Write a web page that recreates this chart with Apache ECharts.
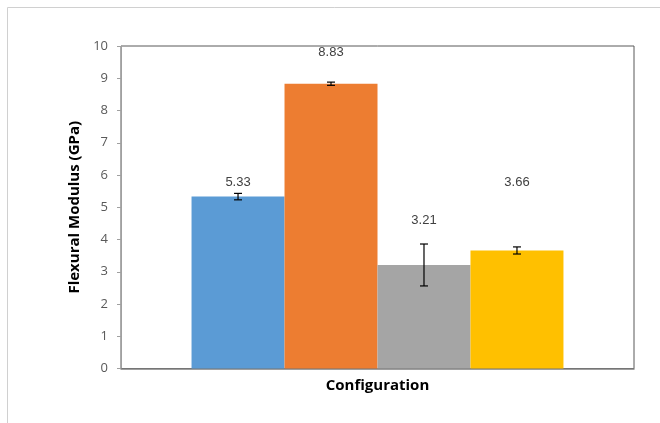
<!DOCTYPE html>
<html><head><meta charset="utf-8">
<script src="https://cdn.jsdelivr.net/npm/echarts@6/dist/echarts.min.js"></script>
<style>html,body{margin:0;padding:0;background:#fff}#c{width:660px;height:423px}</style>
</head><body><div id="c"></div>
<script>
const categories = [''];
const seriesNames = ['A', 'B', 'C', 'D'];
const values = [5.33, 8.83, 3.21, 3.66];
const errors = [0.10, 0.05, 0.65, 0.11];
const yTicks = [0, 1, 2, 3, 4, 5, 6, 7, 8, 9, 10];

const colors = ['#5B9BD5', '#ED7D31', '#A5A5A5', '#FFC000'];
const labelDist = [8, 25, 38, 62];
const catGap = 0.275;
const font = 'Liberation Sans, Arial, sans-serif';
const font2 = 'Open Sans, sans-serif';

const chart = echarts.init(document.getElementById('c'), null, {renderer: 'canvas'});
const series = [];
values.forEach((v, i) => {
  series.push({
    type: 'bar', name: seriesNames[i], data: [v], barGap: '0%', barCategoryGap: (catGap * 100) + '%',
    itemStyle: {color: colors[i]},
    label: {show: true, position: 'top', distance: labelDist[i], color: '#404040', fontSize: 13, fontFamily: font,
      formatter: p => p.value.toFixed(2)},
    z: 2
  });
});
series.push({
  type: 'custom', name: 'err', z: 5,
  data: values.map((v, i) => [0, v - errors[i], v + errors[i], i]),
  renderItem: function (params, api) {
    const idx = api.value(3);
    const lo = api.coord([0, api.value(1)]);
    const hi = api.coord([0, api.value(2)]);
    const band = api.size([1, 0])[0];
    const groupW = band * (1 - catGap);
    const barW = groupW / values.length;
    const x = lo[0] - groupW / 2 + barW * (idx + 0.5);
    const cap = 4;
    const st = {stroke: '#000', lineWidth: 1.2};
    return {type: 'group', children: [
      {type: 'line', shape: {x1: x, y1: lo[1], x2: x, y2: hi[1]}, style: st},
      {type: 'line', shape: {x1: x - cap, y1: lo[1], x2: x + cap, y2: lo[1]}, style: st},
      {type: 'line', shape: {x1: x - cap, y1: hi[1], x2: x + cap, y2: hi[1]}, style: st}
    ]};
  },
  encode: {x: 0, y: [1, 2]}
});

chart.setOption({
  animation: false,
  backgroundColor: '#fff',
  graphic: [{type: 'rect', shape: {x: 7.5, y: 7.5, width: 700, height: 500}, style: {fill: 'none', stroke: '#d0d0d0', lineWidth: 1}, z: -10}],
  grid: {left: 121, top: 46, right: 26, bottom: 54.5, show: true, borderColor: '#595959', borderWidth: 1, backgroundColor: 'transparent'},
  xAxis: {
    type: 'category', data: categories,
    name: 'Configuration', nameLocation: 'middle', nameGap: 10,
    nameTextStyle: {fontSize: 15, fontWeight: 'bold', color: '#000', fontFamily: font2},
    axisLine: {lineStyle: {color: '#7f7f7f', width: 1.5}}, axisTick: {show: false}, axisLabel: {show: false}
  },
  yAxis: {
    type: 'value', min: yTicks[0], max: yTicks[yTicks.length - 1], interval: 1,
    name: 'Flexural Modulus (GPa)', nameLocation: 'middle', nameGap: 37, nameRotate: 90,
    nameTextStyle: {fontSize: 15, fontWeight: 'bold', color: '#000', fontFamily: font2},
    axisLine: {show: true, lineStyle: {color: '#a0a0a0'}},
    axisTick: {show: true, length: 4, lineStyle: {color: '#a0a0a0'}},
    axisLabel: {color: '#595959', fontSize: 13, margin: 13, fontFamily: font2},
    splitLine: {show: false}
  },
  series: series
});
</script></body></html>
